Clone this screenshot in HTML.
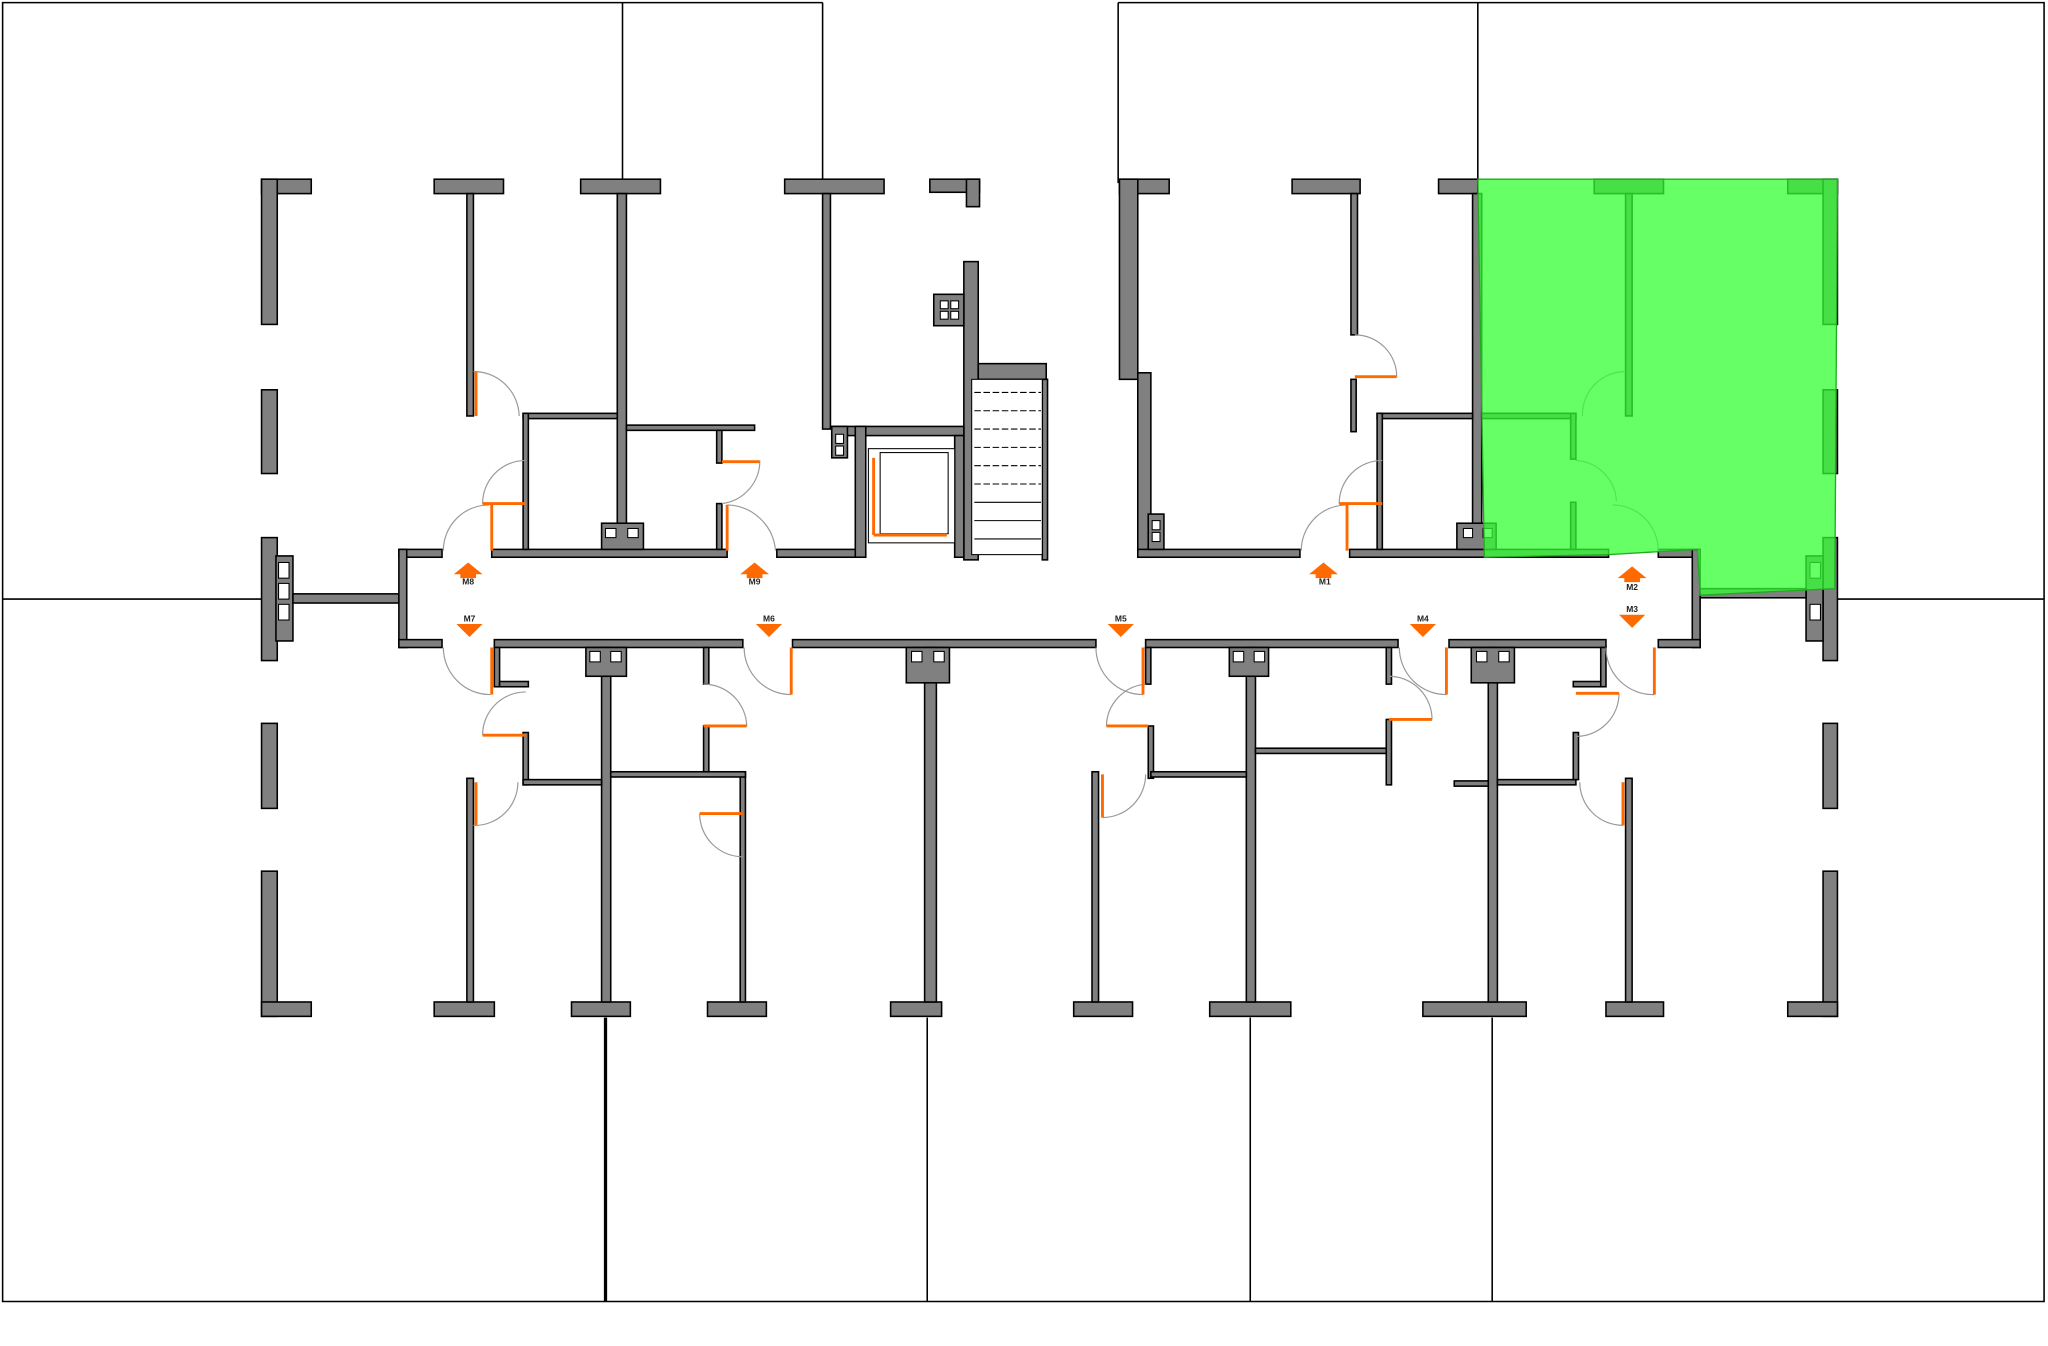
<!DOCTYPE html>
<html><head><meta charset="utf-8"><style>
html,body{margin:0;padding:0;background:#fff}
svg{display:block}
.w{fill:#808080;stroke:#000;stroke-width:1.2}
.t{fill:#000}
.ln{stroke:#000;stroke-width:1.2;fill:none}
.arc{stroke:#999;stroke-width:0.9;fill:none}
.dr{stroke:#ff6a00;stroke-width:2.2;fill:none}
.ar{fill:#ff6a00}
.lb{font-family:"Liberation Sans",sans-serif;font-size:6.5px;font-weight:bold;fill:#222}
</style></head><body>
<svg width="2048" height="1346" viewBox="0 0 1566 1029" preserveAspectRatio="none" xmlns="http://www.w3.org/2000/svg">
<!-- frame lines -->
<g class="ln">
<polyline points="629,2 2,2 2,995 1563,995 1563,2 855,2"/>
<line x1="476" y1="2" x2="476" y2="140"/>
<line x1="629" y1="2" x2="629" y2="140"/>
<line x1="855" y1="2" x2="855" y2="140"/>
<line x1="1130" y1="2" x2="1130" y2="140"/>
<line x1="2" y1="458" x2="200" y2="458"/>
<line x1="1405" y1="458" x2="1563" y2="458"/>
<line x1="709" y1="778" x2="709" y2="995"/>
<line x1="956" y1="778" x2="956" y2="995"/>
<line x1="1141" y1="778" x2="1141" y2="995"/>
</g>
<line x1="463" y1="778" x2="463" y2="995" stroke="#000" stroke-width="2.5"/>

<!-- exterior walls left -->
<g class="w">
<rect x="200" y="137" width="38" height="11"/><rect x="200" y="137" width="12" height="111"/>
<rect x="200" y="298" width="12" height="64"/>
<rect x="200" y="411" width="12" height="94"/><rect x="211" y="425" width="13" height="65"/>
<rect x="224" y="454" width="81" height="7"/>
<rect x="200" y="553" width="12" height="65"/>
<rect x="200" y="666" width="12" height="111"/><rect x="200" y="766" width="38" height="11"/>
<!-- right exterior -->
<rect x="1367" y="137" width="38" height="11"/><rect x="1394" y="137" width="11" height="111"/>
<rect x="1394" y="298" width="11" height="64"/>
<rect x="1394" y="411" width="11" height="94"/><rect x="1381" y="425" width="13" height="65"/>
<rect x="1300" y="450" width="81" height="7"/>
<rect x="1394" y="553" width="11" height="65"/>
<rect x="1394" y="666" width="11" height="111"/><rect x="1367" y="766" width="38" height="11"/>
<!-- top caps -->
<rect x="332" y="137" width="53" height="11"/>
<rect x="444" y="137" width="61" height="11"/>
<rect x="600" y="137" width="76" height="11"/>
<rect x="711" y="137" width="38" height="10"/><rect x="739" y="137" width="10" height="21"/>
<rect x="856" y="137" width="38" height="11"/>
<rect x="988" y="137" width="52" height="11"/>
<rect x="1100" y="137" width="30" height="11"/>
<rect x="1219" y="137" width="53" height="11"/>
<!-- bottom caps -->
<rect x="332" y="766" width="46" height="11"/>
<rect x="437" y="766" width="45" height="11"/>
<rect x="541" y="766" width="45" height="11"/>
<rect x="681" y="766" width="39" height="11"/>
<rect x="821" y="766" width="45" height="11"/>
<rect x="925" y="766" width="62" height="11"/>
<rect x="1088" y="766" width="79" height="11"/>
<rect x="1228" y="766" width="44" height="11"/>
<!-- top interior verticals -->
<rect x="357" y="148" width="5" height="170"/>
<rect x="472" y="148" width="7" height="272"/>
<rect x="629" y="148" width="6" height="180"/>
<rect x="1033" y="148" width="5" height="108"/>
<rect x="1243" y="148" width="5" height="170"/>
<rect x="1126" y="148" width="7" height="272"/>
<!-- right block left wall -->
<rect x="856" y="137" width="14" height="153"/><rect x="870" y="285" width="10" height="141"/>
<!-- corridor -->
<rect x="305" y="420" width="33" height="6"/>
<rect x="376" y="420" width="180" height="6"/>
<rect x="594" y="420" width="60" height="6"/>
<rect x="870" y="420" width="124" height="6"/>
<rect x="1032" y="420" width="198" height="6"/>
<rect x="1268" y="420" width="32" height="6"/>
<rect x="305" y="420" width="6" height="75"/>
<rect x="1294" y="420" width="6" height="75"/>
<rect x="305" y="489" width="33" height="6"/>
<rect x="378" y="489" width="190" height="6"/>
<rect x="606" y="489" width="232" height="6"/>
<rect x="876" y="489" width="193" height="6"/>
<rect x="1108" y="489" width="120" height="6"/>
<rect x="1268" y="489" width="32" height="6"/>
<!-- top room walls -->
<rect x="400" y="316" width="72" height="4"/><rect x="479" y="325" width="98" height="4"/>
<rect x="400" y="316" width="4" height="104"/>
<rect x="1053" y="316" width="73" height="4"/><rect x="1053" y="316" width="4" height="104"/>
<rect x="1133" y="316" width="72" height="4"/><rect x="1201" y="316" width="4" height="35"/>
<rect x="1201" y="384" width="4" height="36"/>
<rect x="1033" y="290" width="4" height="40"/>
<rect x="548" y="329" width="4" height="25"/>
<rect x="548" y="385" width="4" height="35"/>
<!-- column blocks top -->
<rect x="460" y="400" width="32" height="20"/>
<rect x="878" y="393" width="12" height="27"/>
<rect x="1114" y="400" width="30" height="20"/>
<!-- stair/elevator -->
<rect x="737" y="200" width="11" height="228"/>
<rect x="748" y="278" width="52" height="12"/>
<rect x="797" y="290" width="4" height="138"/>
<rect x="714" y="225" width="23" height="24"/>
<rect x="636" y="326" width="101" height="7"/>
<rect x="654" y="326" width="8" height="100"/>
<rect x="730" y="333" width="7" height="93"/>
<rect x="636" y="326" width="12" height="24"/>
<!-- bottom interior verticals -->
<rect x="460" y="495" width="7" height="271"/>
<rect x="707" y="495" width="9" height="271"/>
<rect x="953" y="495" width="7" height="271"/>
<rect x="1138" y="495" width="7" height="271"/>
<rect x="357" y="595" width="5" height="171"/>
<rect x="566" y="590" width="4" height="176"/>
<rect x="835" y="590" width="5" height="176"/>
<rect x="1243" y="595" width="5" height="171"/>
<rect x="378" y="495" width="4" height="30"/>
<rect x="382" y="521" width="22" height="4"/>
<rect x="400" y="560" width="4" height="40"/>
<rect x="400" y="596" width="60" height="4"/>
<rect x="467" y="590" width="103" height="4"/>
<rect x="538" y="495" width="4" height="28"/>
<rect x="538" y="555" width="4" height="35"/>
<rect x="876" y="495" width="4" height="28"/>
<rect x="878" y="555" width="4" height="40"/>
<rect x="880" y="590" width="73" height="4"/>
<rect x="960" y="572" width="102" height="4"/>
<rect x="1060" y="495" width="4" height="28"/>
<rect x="1060" y="550" width="4" height="50"/>
<rect x="1112" y="597" width="26" height="4"/>
<rect x="1145" y="596" width="60" height="4"/>
<rect x="1203" y="560" width="4" height="36"/>
<rect x="1203" y="521" width="22" height="4"/><rect x="1224" y="495" width="4" height="30"/>
<!-- column blocks bottom -->
<rect x="448" y="495" width="31" height="22"/>
<rect x="693" y="495" width="33" height="27"/>
<rect x="940" y="495" width="30" height="22"/>
<rect x="1125" y="495" width="33" height="27"/>
</g>
<!-- small white boxes -->
<g fill="#fff" stroke="#000" stroke-width="0.8">
<rect x="463" y="404" width="8" height="7"/><rect x="480" y="404" width="8" height="7"/>
<rect x="213" y="430" width="8" height="12"/><rect x="213" y="446" width="8" height="12"/><rect x="213" y="462" width="8" height="12"/>
<rect x="1384" y="430" width="8" height="12"/><rect x="1384" y="462" width="8" height="12"/>
<rect x="881" y="398" width="6" height="7"/><rect x="881" y="407" width="6" height="7"/>
<rect x="1119" y="404" width="7" height="7"/><rect x="1134" y="404" width="7" height="7"/>
<rect x="719" y="230" width="6" height="6"/><rect x="727" y="230" width="6" height="6"/><rect x="719" y="238" width="6" height="6"/><rect x="727" y="238" width="6" height="6"/>
<rect x="639" y="332" width="6" height="7"/><rect x="639" y="341" width="6" height="7"/>
<rect x="664" y="343" width="66" height="72"/>
<rect x="673" y="346" width="52" height="62"/>
<rect x="451" y="498" width="8" height="8"/><rect x="467" y="498" width="8" height="8"/>
<rect x="697" y="498" width="8" height="8"/><rect x="714" y="498" width="8" height="8"/>
<rect x="943" y="498" width="8" height="8"/><rect x="959" y="498" width="8" height="8"/>
<rect x="1129" y="498" width="8" height="8"/><rect x="1146" y="498" width="8" height="8"/>
<rect x="743" y="290" width="54" height="134"/>
</g>
<g stroke="#000" stroke-width="0.8" stroke-dasharray="5,2">
<line x1="745" y1="300" x2="796" y2="300"/><line x1="745" y1="314" x2="796" y2="314"/>
<line x1="745" y1="328" x2="796" y2="328"/><line x1="745" y1="342" x2="796" y2="342"/>
<line x1="745" y1="356" x2="796" y2="356"/><line x1="745" y1="370" x2="796" y2="370"/>
</g>
<g stroke="#000" stroke-width="0.8">
<line x1="745" y1="384" x2="796" y2="384"/><line x1="745" y1="398" x2="796" y2="398"/>
<line x1="745" y1="412" x2="796" y2="412"/>
</g>
<line x1="668" y1="409" x2="724" y2="409" class="dr" stroke-width="1.5"/>
<line x1="668" y1="350" x2="668" y2="409" class="dr" stroke-width="1.5"/>

<!-- doors: arcs and leaves -->
<g class="arc">
<path d="M362,284 A35,35 0 0 1 397,318"/>
<path d="M402,352 A33,33 0 0 0 369,385"/>
<path d="M374,386 A35,35 0 0 0 339,421"/>
<path d="M581,352 A33,33 0 0 1 552,385"/>
<path d="M556,386 A38,38 0 0 1 593,421"/>
<path d="M1036,256 A32,32 0 0 1 1068,288"/>
<path d="M1057,352 A33,33 0 0 0 1024,385"/>
<path d="M1030,386 A35,35 0 0 0 995,421"/>
<path d="M1243,284 A33,33 0 0 0 1210,318"/>
<path d="M1205,352 A33,33 0 0 1 1236,383"/>
<path d="M1233,386 A35,35 0 0 1 1268,421"/>
<path d="M339,495 A36,36 0 0 0 375,531"/>
<path d="M402,529 A33,33 0 0 0 369,562"/>
<path d="M362,631 A33,33 0 0 0 396,598"/>
<path d="M538,523 A33,33 0 0 1 571,555"/>
<path d="M535,622 A33,33 0 0 0 568,655"/>
<path d="M569,495 A36,36 0 0 0 605,531"/>
<path d="M876,523 A33,33 0 0 0 846,555"/>
<path d="M843,625 A33,33 0 0 0 876,592"/>
<path d="M838,495 A36,36 0 0 0 874,531"/>
<path d="M1062,517 A33,33 0 0 1 1095,550"/>
<path d="M1070,495 A36,36 0 0 0 1106,531"/>
<path d="M1228,495 A36,36 0 0 0 1265,531"/>
<path d="M1238,530 A33,33 0 0 1 1205,563"/>
<path d="M1208,598 A33,33 0 0 0 1241,631"/>
</g>
<g class="dr">
<line x1="364" y1="284" x2="364" y2="318"/>
<line x1="369" y1="385" x2="402" y2="385"/>
<line x1="376" y1="386" x2="376" y2="421"/>
<line x1="552" y1="353" x2="581" y2="353"/>
<line x1="556" y1="386" x2="556" y2="421"/>
<line x1="1036" y1="288" x2="1068" y2="288"/>
<line x1="1024" y1="385" x2="1057" y2="385"/>
<line x1="1030" y1="386" x2="1030" y2="421"/>
<line x1="376" y1="495" x2="376" y2="531"/>
<line x1="369" y1="562" x2="402" y2="562"/>
<line x1="364" y1="598" x2="364" y2="631"/>
<line x1="538" y1="555" x2="571" y2="555"/>
<line x1="535" y1="622" x2="568" y2="622"/>
<line x1="605" y1="495" x2="605" y2="531"/>
<line x1="846" y1="555" x2="878" y2="555"/>
<line x1="843" y1="592" x2="843" y2="625"/>
<line x1="874" y1="495" x2="874" y2="531"/>
<line x1="1062" y1="550" x2="1095" y2="550"/>
<line x1="1106" y1="495" x2="1106" y2="531"/>
<line x1="1265" y1="495" x2="1265" y2="531"/>
<line x1="1205" y1="530" x2="1238" y2="530"/>
<line x1="1241" y1="598" x2="1241" y2="631"/>
</g>
<!-- green area -->
<polygon points="1130,137 1405,137 1403,450 1300,455 1298,420 1230,424 1135,426" fill="#33ff33" fill-opacity="0.75" stroke="#22aa22" stroke-width="1"/>
<!-- arrows -->
<g class="ar">
<polygon points="358,430 347,439 352,439 352,442 364,442 364,439 369,439"/>
<polygon points="577,430 566,439 571,439 571,442 583,442 583,439 588,439"/>
<polygon points="1012,430 1001,439 1006,439 1006,442 1018,442 1018,439 1023,439"/>
<polygon points="1248,433 1237,442 1242,442 1242,445 1254,445 1254,442 1259,442"/>
<polygon points="349,477 369,477 359,487"/>
<polygon points="578,477 598,477 588,487"/>
<polygon points="847,477 867,477 857,487"/>
<polygon points="1078,477 1098,477 1088,487"/>
<polygon points="1238,470 1258,470 1248,480"/>
</g>
<g class="lb" text-anchor="middle">
<text x="358" y="447">M8</text><text x="577" y="447">M9</text><text x="1013" y="447">M1</text>
<text x="1248" y="451">M2</text><text x="1248" y="468">M3</text>
<text x="359" y="475">M7</text><text x="588" y="475">M6</text><text x="857" y="475">M5</text><text x="1088" y="475">M4</text>
</g>
</svg>
</body></html>
